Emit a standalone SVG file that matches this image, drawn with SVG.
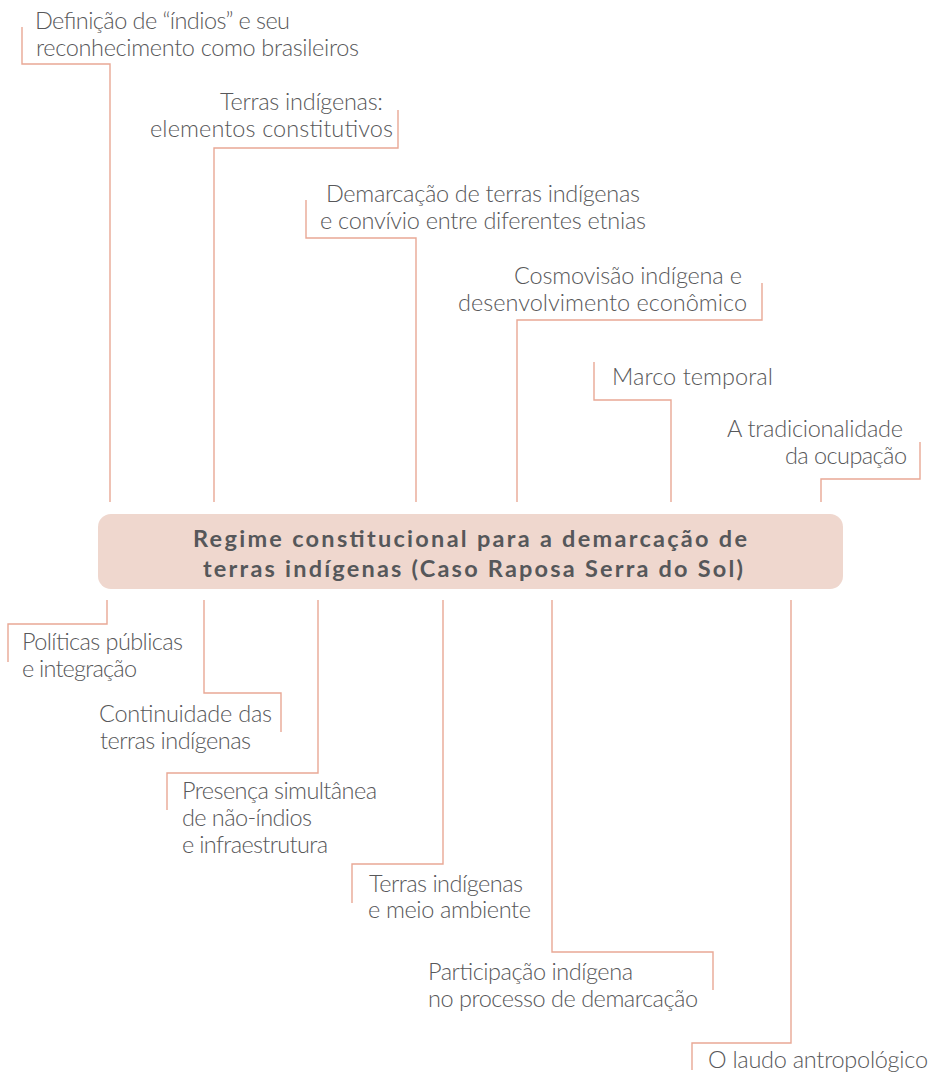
<svg xmlns="http://www.w3.org/2000/svg" width="932" height="1077" viewBox="0 0 932 1077">
<style>
.bg{fill:#ffffff}
.conn path{fill:none;stroke:#E9A895;stroke-width:1.4}
.lbl{font-family:Lato,"Open Sans","Liberation Sans",sans-serif;font-weight:300;font-size:23.5px;fill:#58585a}
.ttl{font-family:Lato,"Open Sans","Liberation Sans",sans-serif;font-weight:700;font-size:23.5px;fill:#56575a}
.box{fill:#EFD7CE}
</style>
<rect class="bg" x="0" y="0" width="932" height="1077"/>
<g id="connectors" class="conn">
<path d="M22,27 V64 H110 V502"/>
<path d="M398,110 V148 H214 V502"/>
<path d="M306,200 V238 H416 V502"/>
<path d="M762,283 V320 H517 V502"/>
<path d="M594,362 V400 H671 V502"/>
<path d="M920,442 V479 H821 V502"/>
<path d="M107,600 V624 H8 V662"/>
<path d="M204,600 V693 H281 V732"/>
<path d="M318,600 V773 H167 V810"/>
<path d="M443,600 V864 H352 V903"/>
<path d="M552,600 V952 H713 V990"/>
<path d="M791,600 V1043 H692 V1070"/>
</g>
<g id="center">
<rect class="box" x="98" y="514" width="745" height="75" rx="13" ry="13"/>
<text class="ttl" x="193" y="547" textLength="554">Regime constitucional para a demarcação de</text>
<text class="ttl" x="203" y="577" textLength="540">terras indígenas (Caso Raposa Serra do Sol)</text>
</g>
<g id="n-definicao">
<text class="lbl" x="35" y="29" textLength="255">Definição de “índios” e seu</text>
<text class="lbl" x="36" y="56" textLength="323">reconhecimento como brasileiros</text>
</g>
<g id="n-terras-elementos">
<text class="lbl" x="220" y="110" textLength="163">Terras indígenas:</text>
<text class="lbl" x="150" y="137" textLength="243">elementos constitutivos</text>
</g>
<g id="n-demarcacao">
<text class="lbl" x="326" y="202" textLength="314">Demarcação de terras indígenas</text>
<text class="lbl" x="320" y="229" textLength="326">e convívio entre diferentes etnias</text>
</g>
<g id="n-cosmovisao">
<text class="lbl" x="514" y="284" textLength="228">Cosmovisão indígena e</text>
<text class="lbl" x="458" y="311" textLength="289">desenvolvimento econômico</text>
</g>
<g id="n-marco">
<text class="lbl" x="612" y="385" textLength="161">Marco temporal</text>
</g>
<g id="n-tradicionalidade">
<text class="lbl" x="727" y="437" textLength="176">A tradicionalidade</text>
<text class="lbl" x="785" y="464" textLength="122">da ocupação</text>
</g>
<g id="n-politicas">
<text class="lbl" x="22" y="650" textLength="161">Políticas públicas</text>
<text class="lbl" x="22" y="677" textLength="115">e integração</text>
</g>
<g id="n-continuidade">
<text class="lbl" x="99" y="722" textLength="173">Continuidade das</text>
<text class="lbl" x="100" y="749" textLength="151">terras indígenas</text>
</g>
<g id="n-presenca">
<text class="lbl" x="182" y="799" textLength="195">Presença simultânea</text>
<text class="lbl" x="182" y="826" textLength="130">de não-índios</text>
<text class="lbl" x="182" y="853" textLength="146">e infraestrutura</text>
</g>
<g id="n-terras-meio">
<text class="lbl" x="369" y="892" textLength="154">Terras indígenas</text>
<text class="lbl" x="368" y="918" textLength="163">e meio ambiente</text>
</g>
<g id="n-participacao">
<text class="lbl" x="428" y="980" textLength="205">Participação indígena</text>
<text class="lbl" x="428" y="1007" textLength="270">no processo de demarcação</text>
</g>
<g id="n-laudo">
<text class="lbl" x="708" y="1068" textLength="220">O laudo antropológico</text>
</g>
</svg>
